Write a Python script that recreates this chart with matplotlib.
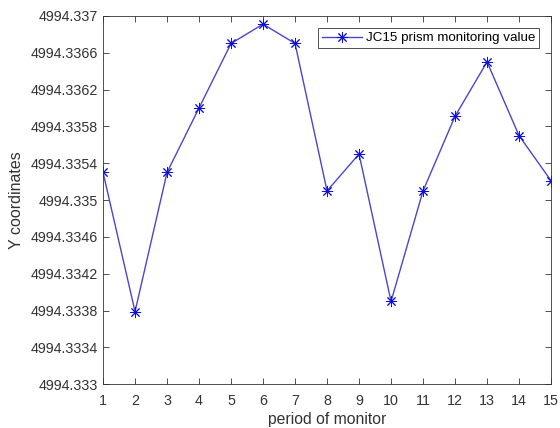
import matplotlib.pyplot as plt
from matplotlib.ticker import FixedLocator

plt.rcParams['font.family'] = ['Liberation Sans', 'DejaVu Sans']

periods = list(range(1, 16))
y_coords = [4994.33530, 4994.33379, 4994.33530, 4994.33600, 4994.33670,
            4994.33691, 4994.33670, 4994.33510, 4994.33550, 4994.33390,
            4994.33510, 4994.33591, 4994.33650, 4994.33570, 4994.33521]
y_ticks = [4994.333, 4994.3334, 4994.3338, 4994.3342, 4994.3346, 4994.335,
           4994.3354, 4994.3358, 4994.3362, 4994.3366, 4994.337]
y_tick_labels = ['4994.333', '4994.3334', '4994.3338', '4994.3342', '4994.3346',
                 '4994.335', '4994.3354', '4994.3358', '4994.3362', '4994.3366',
                 '4994.337']

fig = plt.figure(figsize=(5.6, 4.28), dpi=100)
ax = fig.add_axes([0.184, 0.102, 0.8, 0.861])

# MATLAB-style asterisk: 8 arms
ax.plot(periods, y_coords, color='#4848c8', linewidth=1.0, marker=(8, 2, 0),
        markersize=8, markeredgecolor='#1010d8', markerfacecolor='#1010d8',
        markeredgewidth=0.7, label='JC15 prism monitoring value')

ax.set_xlim(1, 15)
ax.set_ylim(4994.333, 4994.337)
ax.set_xticks(periods)
ax.yaxis.set_major_locator(FixedLocator(y_ticks))
ax.set_yticklabels(y_tick_labels)
ax.tick_params(direction='in', top=True, right=True, labelsize=10.3,
               colors='#333333', length=4, width=0.6)
ax.tick_params(axis='x', pad=7)
for sp in ax.spines.values():
    sp.set_linewidth(0.6)
    sp.set_color('#333333')

ax.set_xlabel('period of monitor', fontsize=11.3, color='#333333', labelpad=3)
ax.set_ylabel('Y coordinates', fontsize=11.5, color='#333333', labelpad=5)

leg = ax.legend(loc='upper right', fontsize=9.6, fancybox=False,
                edgecolor='#333333', framealpha=1, borderaxespad=0.9,
                handlelength=3.0, handletextpad=0.3, borderpad=0.3)
leg.get_frame().set_linewidth(0.6)

fig.savefig('out.png', dpi=100)
